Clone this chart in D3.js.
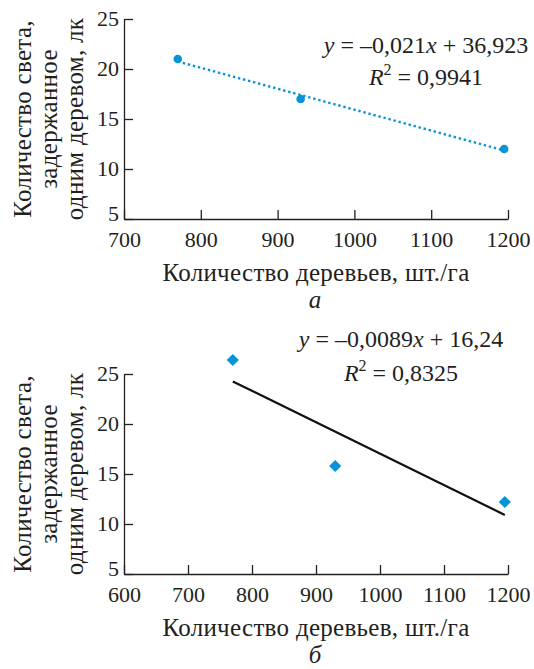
<!DOCTYPE html>
<html>
<head>
<meta charset="utf-8">
<script src="https://cdn.jsdelivr.net/npm/d3@7"></script>
<style>
  body { margin: 0; background: #fff; }
</style>
</head>
<body>
<script>
'use strict';

// panel а
const treesA = [770, 930, 1195]
const lightA = [21, 17, 12]
const xTicksA = [700, 800, 900, 1000, 1100, 1200]
const eqA = ["–0,021", "36,923", "0,9941"]

// panel б
const treesB = [770, 930, 1195]
const lightB = [26.4, 15.8, 12.2]
const xTicksB = [600, 700, 800, 900, 1000, 1100, 1200]
const eqB = ["–0,0089", "16,24", "0,8325"]

const yTicks = [5, 10, 15, 20, 25]
const yTitle = ["Количество света,", "задержанное", "одним деревом, лк"]
const xTitle = "Количество деревьев, шт./га"

const blue = "#0a94d8"
const ink = "#231f20"
const serif = "'Liberation Serif'"
const fs = 22       // tick labels
const fsTitle = 25  // axis titles
const fsEq = 24     // trend equations

const svg = d3.select("body").append("svg")
    .attr("width", 534)
    .attr("height", 669);

function fitLine(xs, ys) {
    let mx = d3.mean(xs), my = d3.mean(ys)
    let sxy = d3.sum(xs, (x, i) => (x - mx) * (ys[i] - my))
    let sxx = d3.sum(xs, x => (x - mx) * (x - mx))
    let b = sxy / sxx
    return x => my + b * (x - mx)
}

function drawPanel(top, xs, ys, xTicks, eq, label, eqX, dotted) {
    let g = svg.append("g").attr("transform", "translate(0," + top + ")")

    let x = d3.scaleLinear()
        .domain([xTicks[0], xTicks[xTicks.length - 1]])
        .range([124, 508]);
    let y = d3.scaleLinear()
        .domain([5, 25])
        .range([200, 0]);

    // axes, ticks pointing inside the plot
    g.append("g")
        .attr("transform", "translate(0,200)")
        .call(d3.axisBottom(x).tickValues(xTicks).tickFormat(d3.format("d"))
            .tickSizeInner(-9).tickSizeOuter(0).tickPadding(12))
        .call(a => a.select(".domain").attr("stroke", ink).attr("stroke-width", 1.3))
        .call(a => a.selectAll(".tick line").attr("stroke", ink).attr("stroke-width", 1.3))
        .call(a => a.selectAll(".tick text")
            .style("font-family", serif).attr("font-size", fs).attr("fill", ink).attr("dy", "0.71em"));

    g.append("g")
        .attr("transform", "translate(124,0)")
        .call(d3.axisLeft(y).tickValues(yTicks).tickSizeInner(-9).tickSizeOuter(0).tickPadding(5))
        .call(a => a.select(".domain").attr("stroke", ink).attr("stroke-width", 1.3))
        .call(a => a.selectAll(".tick line").attr("stroke", ink).attr("stroke-width", 1.3))
        .call(a => a.selectAll(".tick text")
            .style("font-family", serif).attr("font-size", fs).attr("fill", ink)
            .attr("dy", d => d === 5 ? "0.08em" : "0.3em"));  // the bottom label sits a bit higher

    // linear trend
    let f = fitLine(xs, ys)
    let x0 = d3.min(xs), x1 = d3.max(xs)
    g.append("line")
        .attr("x1", x(x0)).attr("y1", y(f(x0)))
        .attr("x2", x(x1)).attr("y2", y(f(x1)))
        .attr("stroke", dotted ? blue : "#111")
        .attr("stroke-width", dotted ? 2.4 : 2.2)
        .attr("stroke-dasharray", dotted ? "2.4,2.8" : null);

    // markers
    if (dotted) {
        g.selectAll(".pt")
            .data(xs)
            .enter()
            .append("circle")
            .attr("cx", d => x(d))
            .attr("cy", (d, i) => y(ys[i]))
            .attr("r", 4.3)
            .attr("fill", blue);
    } else {
        g.selectAll(".pt")
            .data(xs)
            .enter()
            .append("path")
            .attr("d", d3.symbol(d3.symbolDiamond2, 95)())
            .attr("transform", (d, i) => "translate(" + x(d) + "," + y(ys[i]) + ")")
            .attr("fill", blue);
    }

    // equation, relative to the top of the plot
    let t1 = g.append("text")
        .attr("x", eqX).attr("y", dotted ? 34 : -27)
        .attr("text-anchor", "middle")
        .style("font-family", serif)
        .attr("font-size", fsEq)
        .attr("fill", ink)
    t1.append("tspan").attr("font-style", "italic").text("y")
    t1.append("tspan").text(" = " + eq[0])
    t1.append("tspan").attr("font-style", "italic").text("x")
    t1.append("tspan").text(" + " + eq[1])

    let t2 = g.append("text")
        .attr("x", eqX).attr("y", dotted ? 66 : 7)
        .attr("text-anchor", "middle")
        .style("font-family", serif)
        .attr("font-size", fsEq)
        .attr("fill", ink)
    t2.append("tspan").attr("font-style", "italic").text("R")
    t2.append("tspan").attr("font-size", 16).attr("dy", -10).text("2")
    t2.append("tspan").attr("dy", 10).text(" = " + eq[2])

    // axis titles
    g.append("text")
        .attr("x", 316).attr("y", 262)
        .attr("text-anchor", "middle")
        .style("font-family", serif)
        .style("letter-spacing", "0.3px")
        .attr("font-size", fsTitle)
        .attr("fill", ink)
        .text(xTitle);

    g.append("text")
        .attr("x", 315).attr("y", 289)
        .attr("text-anchor", "middle")
        .style("font-family", serif)
        .attr("font-size", fsTitle)
        .attr("font-style", "italic")
        .attr("fill", ink)
        .text(label);

    yTitle.forEach(function (line, i) {
        g.append("text")
            .attr("transform", "translate(" + (31 + i * 26) + ",100) rotate(-90)")
            .attr("text-anchor", "middle")
            .style("font-family", serif)
            .style("letter-spacing", "0.3px")
            .attr("font-size", fsTitle)
            .attr("fill", ink)
            .text(line);
    });
}

drawPanel(19, treesA, lightA, xTicksA, eqA, "а", 426, true)
drawPanel(374, treesB, lightB, xTicksB, eqB, "б", 401, false)
</script>
</body>
</html>
